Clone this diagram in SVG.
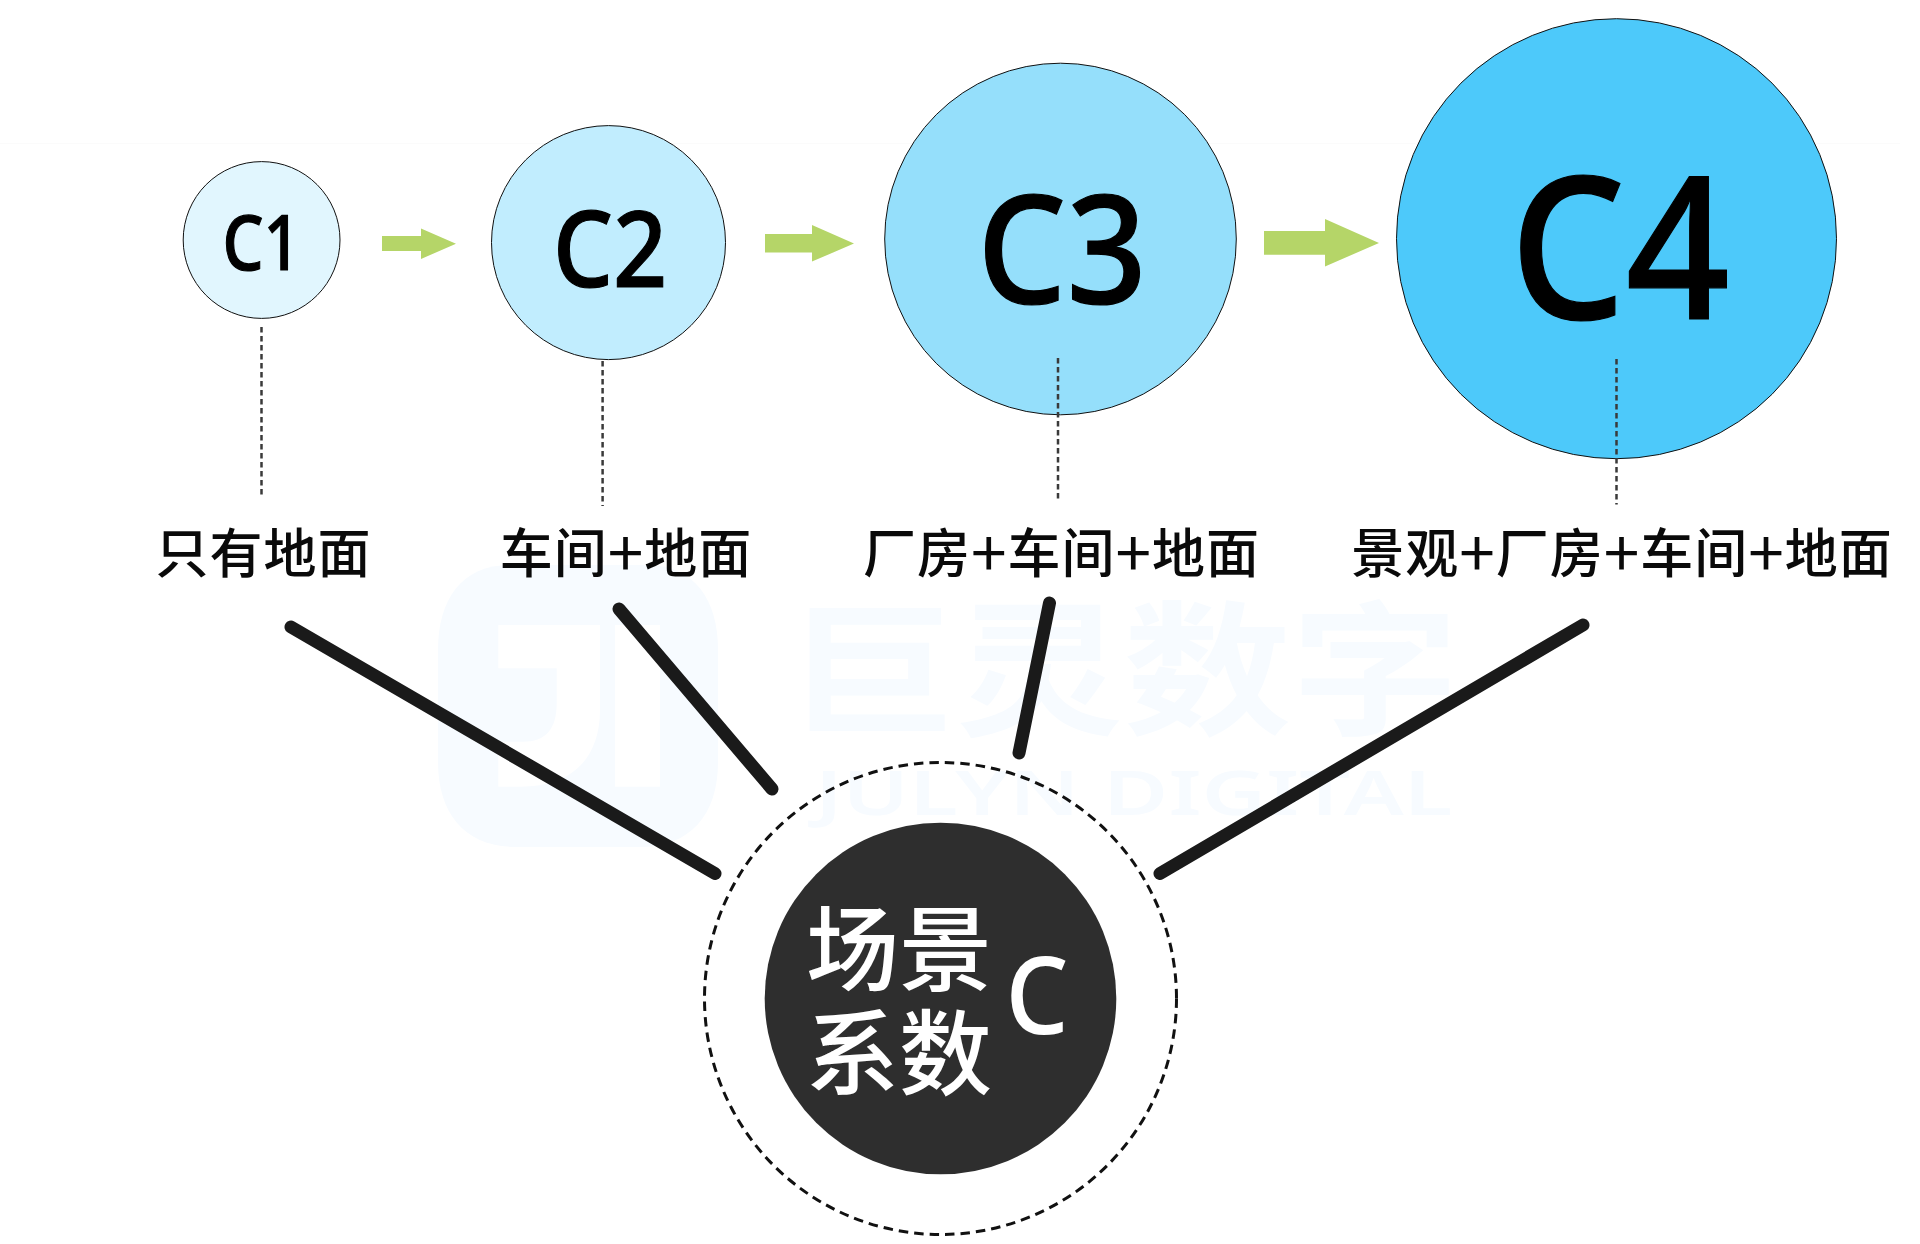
<svg xmlns="http://www.w3.org/2000/svg" width="1920" height="1244" viewBox="0 0 1920 1244">
<style>
text{font-family:"Noto Sans","Noto Sans CJK SC",sans-serif}
.lab{font-family:"Noto Sans CJK SC",sans-serif;font-size:53px;font-weight:500;fill:#0a0a0a;text-anchor:middle;letter-spacing:1px}
.p{font-size:64px;font-weight:400}
.c{stroke:#111;stroke-width:1}
.cap{fill:#000;stroke:#000;stroke-width:1.200;text-anchor:middle;font-weight:500}
.d{stroke:#3a3a3a;stroke-width:2.500;stroke-dasharray:5.500 3.500;fill:none}
.s{stroke:#1a1a1a;stroke-width:13;stroke-linecap:round;fill:none}
.a{fill:#b5d568}
.w{fill:#f7fbff}
.cjk{font-family:"Noto Sans CJK SC",sans-serif}
</style>
<rect width="1920" height="1244" fill="#fff"/>
<line x1="0" y1="143.500" x2="1900" y2="143.500" stroke="#fbfbfb"/>
<g id="watermark">
<path class="w" d="M510 565H646C695 565 718 600 718 650V762C718 815 690 847 640 847H516C466 847 438 815 438 762V650C438 600 461 565 510 565Z"/>
<path fill="#fff" d="M498.300 625H600V710C600 760 570 786.700 520 786.700H498.300V741.700H523C545 741.700 556.700 730 556.700 703V668.300H498.300Z"/>
<rect x="615" y="625" width="45" height="161.700" fill="#fff"/>
<text class="w cjk" transform="translate(788,723.500) scale(1.157,1)" font-size="145" font-weight="700">巨灵数字</text>
<text class="w" transform="translate(815,815) scale(1.25,1)" font-size="62" font-weight="600" textLength="510" lengthAdjust="spacingAndGlyphs">JULYN DIGITAL</text>
</g>
<g id="c1"><circle class="c" cx="261.600" cy="240" r="78.400" fill="#e1f6fe"/><text class="cap" transform="translate(261.500,269.500) scale(.84,1)" font-size="77">C1</text></g>
<g id="c2"><circle class="c" cx="608.500" cy="242.600" r="117" fill="#c1edfe"/><text class="cap" transform="translate(610,286.500) scale(.9,1)" font-size="105">C2</text></g>
<g id="c3"><circle class="c" cx="1060.500" cy="239" r="175.800" fill="#95dffb"/><text class="cap" transform="translate(1062,302.500) scale(.93,1)" font-size="151">C3</text></g>
<g id="c4"><circle class="c" cx="1616.500" cy="238.700" r="220" fill="#4dc9fa"/><text class="cap" transform="translate(1620,318.500) scale(.92,1)" font-size="198">C4</text></g>
<g id="connectors">
<path class="a" d="M382 236H421V228.500L456 243.700 421 259V251H382Z"/>
<path class="a" d="M765 234H812V225L854 243.500 812 261.600V252.600H765Z"/>
<path class="a" d="M1264 231H1325V219L1379 243 1325 266.500V254.700H1264Z"/>
<line class="d" x1="261.500" y1="327" x2="261.500" y2="497"/>
<line class="d" x1="602.600" y1="361" x2="602.600" y2="506"/>
<line class="d" x1="1058" y1="358" x2="1058" y2="502"/>
<line class="d" x1="1616.500" y1="359" x2="1616.500" y2="504.500"/>
<line class="s" x1="291" y1="627" x2="715" y2="873.500"/>
<line class="s" x1="619" y1="609" x2="772" y2="789"/>
<line class="s" x1="1049.500" y1="603" x2="1019" y2="753"/>
<line class="s" x1="1583" y1="625" x2="1160" y2="873.500"/>
</g>
<g id="l1"><text class="lab" x="263.500" y="573">只有地面</text></g>
<g id="l2"><text class="lab" x="626" y="573">车间<tspan class="p" dy="4">+</tspan><tspan dy="-4">地面</tspan></text></g>
<g id="l3"><text class="lab" x="1061.500" y="573">厂房<tspan class="p" dy="4">+</tspan><tspan dy="-4">车间</tspan><tspan class="p" dy="4">+</tspan><tspan dy="-4">地面</tspan></text></g>
<g id="l4"><text class="lab" x="1622" y="573">景观<tspan class="p" dy="4">+</tspan><tspan dy="-4">厂房</tspan><tspan class="p" dy="4">+</tspan><tspan dy="-4">车间</tspan><tspan class="p" dy="4">+</tspan><tspan dy="-4">地面</tspan></text></g>
<g id="center">
<circle cx="940.500" cy="998.500" r="236" fill="none" stroke="#111" stroke-width="3" stroke-dasharray="9.500 6"/>
<circle cx="940.500" cy="998.500" r="175.800" fill="#2e2e2e"/>
<text class="cjk" x="899" y="984" font-size="93" font-weight="500" fill="#fff" text-anchor="middle">场景</text>
<text class="cjk" x="899" y="1088" font-size="93" font-weight="500" fill="#fff" text-anchor="middle">系数</text>
<text transform="translate(1037,1034) scale(.92,1)" font-size="108" font-weight="500" fill="#fff" text-anchor="middle">C</text>
</g>
</svg>
